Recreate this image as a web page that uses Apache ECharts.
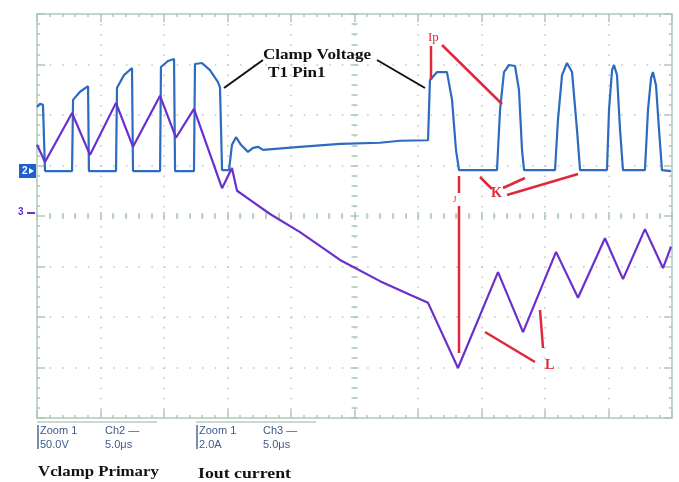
<!DOCTYPE html>
<html>
<head>
<meta charset="utf-8">
<script src="https://cdn.jsdelivr.net/npm/echarts@6/dist/echarts.min.js"></script>
<style>
html, body { margin: 0; padding: 0; background: #fff; }
#scope { width: 679px; height: 482px; }
</style>
</head>
<body>
<div id="scope"></div>
<script>
// time in us (5 us / div), level in screen divisions counted from the bottom (8 div)
var clampTime = [0, 0.24, 0.47, 0.63, 2.76, 2.84, 3.39, 4.02, 4.09, 6.22, 6.30, 6.85, 7.48, 7.56,
  9.69, 9.76, 10.31, 10.79, 10.87, 12.36, 12.44, 12.99, 13.62, 14.25, 14.41, 14.57, 15.12, 15.35,
  15.67, 16.06, 16.61, 17.01, 17.40, 17.80, 20.70, 23.86, 27.00, 28.60, 30.79, 30.94, 31.50, 32.28,
  32.68, 32.99, 33.23, 36.22, 36.46, 36.77, 37.17, 37.64, 37.95, 38.19, 38.35, 40.79, 41.02,
  41.34, 41.73, 42.13, 42.52, 42.76, 44.88, 45.04, 45.28, 45.43, 45.67, 45.91, 46.14, 47.87,
  48.11, 48.35, 48.50, 48.74, 48.98, 49.21, 49.92];
var clampLevel = [6.16, 6.22, 6.20, 4.89, 4.89, 6.30, 6.46, 6.57, 4.89, 4.89, 6.54, 6.79, 6.93, 4.89,
  4.89, 6.95, 7.07, 7.11, 4.89, 4.89, 7.01, 7.03, 6.89, 6.65, 6.54, 4.91, 4.91, 5.41,
  5.56, 5.41, 5.27, 5.35, 5.37, 5.31, 5.37, 5.43, 5.45, 5.49, 5.50, 6.69, 6.85, 6.85,
  6.30, 5.31, 4.91, 4.91, 6.10, 6.85, 6.99, 6.97, 6.50, 5.31, 4.91, 4.91, 5.90,
  6.79, 7.03, 6.85, 5.70, 4.91, 4.91, 6.10, 6.89, 6.99, 6.79, 5.70, 4.91, 4.91,
  6.10, 6.73, 6.85, 6.59, 5.70, 4.91, 4.89];

var ioutTime = [0, 0.63, 2.76, 4.17, 6.22, 7.56, 9.69, 10.94, 12.36, 14.57, 15.35, 15.75, 16.77,
  18.35, 20.71, 23.86, 27.01, 29.37, 30.79, 33.15, 36.30, 38.27, 40.87, 42.60, 44.72, 46.14,
  47.87, 49.29, 49.92];
var ioutLevel = [5.41, 5.07, 6.04, 5.21, 6.24, 5.37, 6.38, 5.55, 6.12, 4.55, 4.95, 4.50, 4.32,
  4.04, 3.68, 3.13, 2.71, 2.44, 2.28, 0.99, 2.89, 1.70, 3.29, 2.38, 3.56, 2.75,
  3.74, 2.97, 3.39];

var timeRange = [0, 50, 5];   // min, max, interval (10 div)
var levelRange = [0, 8, 1];   // 8 div

function zip(a, b) {
  return a.map(function (v, i) { return [v, b[i]]; });
}

var edge = '#adc8b8';
var dots = '#b9c7bf';
var plotW = 635, plotH = 404;

// ticks always point away from the axis' own side; the offset carries the
// axis over to the opposite border (or the centre line) so they face inward.
// onZero must be off, otherwise the offset gets clamped away.
function xAx(pos, offset, border, withGrid) {
  return {
    type: 'value', min: timeRange[0], max: timeRange[1], interval: timeRange[2],
    position: pos, offset: offset,
    axisLine: { show: border, onZero: false, lineStyle: { color: '#c2d7ca', width: 2 } },
    axisTick: { show: true, inside: false, length: border ? 8 : 4, lineStyle: { color: edge, width: 1.5 } },
    minorTick: { show: true, splitNumber: 5, length: 3, lineStyle: { color: edge, width: 1.5 } },
    axisLabel: { show: false },
    splitLine: { show: withGrid, lineStyle: { color: dots, width: 1.5, type: [1.5, 8.6] } }
  };
}
function yAx(pos, offset, border, withGrid) {
  return {
    type: 'value', min: levelRange[0], max: levelRange[1], interval: levelRange[2],
    position: pos, offset: offset,
    axisLine: { show: border, onZero: false, lineStyle: { color: '#c2d7ca', width: 2 } },
    axisTick: { show: true, inside: false, length: border ? 8 : 4, lineStyle: { color: edge, width: 1.5 } },
    minorTick: { show: true, splitNumber: 5, length: 3, lineStyle: { color: edge, width: 1.5 } },
    axisLabel: { show: false },
    splitLine: { show: withGrid, lineStyle: { color: dots, width: 1.5, type: [1.5, 11.2] } }
  };
}

var serif = 'bold 14px "Liberation Serif", "DejaVu Serif", serif';
var small = '11px "Liberation Sans", "DejaVu Sans", sans-serif';
var red = '#e0283c';

function txt(s, x, y, font, fill, sx) {
  return { type: 'text', x: x, y: y, scaleX: sx || 1, style: { text: s, font: font, fill: fill, verticalAlign: 'middle' }, z: 10 };
}
function seg(x1, y1, x2, y2, color, w) {
  return { type: 'line', shape: { x1: x1, y1: y1, x2: x2, y2: y2 }, style: { stroke: color, lineWidth: w || 2 }, z: 10 };
}

var chart = echarts.init(document.getElementById('scope'));
chart.setOption({
  animation: false,
  backgroundColor: '#fff',
  grid: { left: 37, top: 14, width: plotW, height: plotH, outerBoundsMode: 'none' },
  xAxis: [
    xAx('top', -plotH, true, true),        // bottom border, ticks up
    xAx('bottom', -plotH, true, false),    // top border, ticks down
    xAx('top', -plotH / 2, false, false),  // centre line, ticks up
    xAx('bottom', -plotH / 2, false, false)
  ],
  yAxis: [
    yAx('right', -plotW, true, true),      // left border, ticks right
    yAx('left', -plotW, true, false),      // right border, ticks left
    yAx('left', -plotW / 2, false, false), // centre line
    yAx('right', -plotW / 2, false, false)
  ],
  series: [
    {
      name: 'Vclamp Primary', type: 'line', xAxisIndex: 0, yAxisIndex: 0,
      data: zip(clampTime, clampLevel), showSymbol: false,
      lineStyle: { color: '#2c6bc0', width: 2.2 }, z: 3
    },
    {
      name: 'Iout current', type: 'line', xAxisIndex: 0, yAxisIndex: 0,
      data: zip(ioutTime, ioutLevel), showSymbol: false,
      lineStyle: { color: '#6a2fcc', width: 2.2 }, z: 4
    }
  ],
  graphic: [
    // channel markers
    { type: 'rect', shape: { x: 19, y: 164, width: 17, height: 14 }, style: { fill: '#1f5fd2' } },
    txt('2', 22, 171, 'bold 10px "Liberation Sans", sans-serif', '#fff'),
    { type: 'polygon', shape: { points: [[29, 168], [34, 171], [29, 174]] }, style: { fill: '#fff' } },
    txt('3', 18, 212, 'bold 10px "Liberation Sans", sans-serif', '#6a2fcc'),
    seg(27, 213, 35, 213, '#6a2fcc', 2),
    // annotations
    txt('Clamp Voltage', 263, 55, serif, '#111', 1.22),
    txt('T1 Pin1', 268, 73, serif, '#111', 1.22),
    seg(224, 88, 263, 60, '#111', 2),
    seg(377, 60, 425, 88, '#111', 2),
    txt('Ip', 428, 38, '13px "Liberation Serif", serif', red),
    seg(431, 46, 431, 80, red, 2.5),
    seg(442, 45, 502, 104, red, 2.5),
    txt('K', 491, 193, 'bold 14px "Liberation Serif", serif', red),
    seg(480, 177, 492, 189, red, 2.5),
    seg(503, 188, 525, 178, red, 2.5),
    seg(507, 195, 578, 174, red, 2.5),
    txt('J', 453, 200, '9px "Liberation Serif", serif', red),
    seg(459, 176, 459, 193, red, 2.5),
    seg(459, 206, 459, 353, red, 2.5),
    txt('L', 545, 365, 'bold 14px "Liberation Serif", serif', red),
    seg(485, 332, 535, 362, red, 2.5),
    seg(540, 310, 543, 348, red, 2.5),
    // readout boxes
    seg(37, 422, 157, 422, '#b8cdc4', 1.5),
    seg(38, 425, 38, 449, '#4a6a9a', 1.5),
    txt('Zoom 1', 40, 431, small, '#3d5a8c'),
    txt('Ch2 \u2014', 105, 431, small, '#3d5a8c'),
    txt('50.0V', 40, 445, small, '#3d5a8c'),
    txt('5.0\u03bcs', 105, 445, small, '#3d5a8c'),
    seg(196, 422, 316, 422, '#b8cdc4', 1.5),
    seg(197, 425, 197, 449, '#4a6a9a', 1.5),
    txt('Zoom 1', 199, 431, small, '#3d5a8c'),
    txt('Ch3 \u2014', 263, 431, small, '#3d5a8c'),
    txt('2.0A', 199, 445, small, '#3d5a8c'),
    txt('5.0\u03bcs', 263, 445, small, '#3d5a8c'),
    txt('Vclamp Primary', 38, 472, serif, '#111', 1.2),
    txt('Iout current', 198, 474, serif, '#111', 1.27)
  ]
});
</script>
</body>
</html>
